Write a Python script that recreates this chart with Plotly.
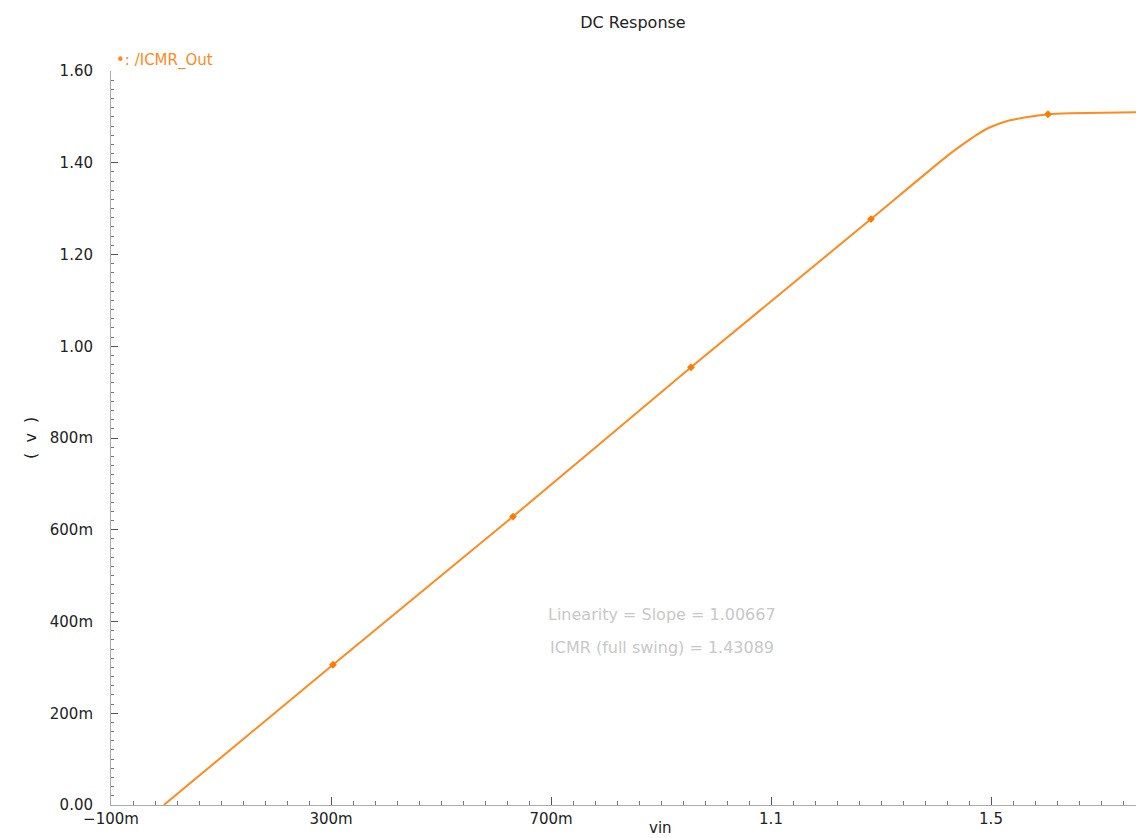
import plotly.graph_objects as go

# DC sweep of the ICMR output (input voltage vs output voltage)
vin = [-0.004, 0.3036, 0.6309, 0.9545, 1.2818, 1.42, 1.4564, 1.4782, 1.4982,
       1.5345, 1.5764, 1.6036, 1.6436, 1.7636]
vout = [0.0, 0.3057, 0.6288, 0.9541, 1.2773, 1.4145, 1.4465, 1.4640, 1.4774,
        1.4926, 1.5013, 1.5057, 1.5079, 1.5100]

# trace identification markers
marker_vin = [0.3036, 0.6309, 0.9545, 1.2818, 1.6036]
marker_vout = [0.3057, 0.6288, 0.9541, 1.2773, 1.5057]

x_tickvals = [-0.1, 0.3, 0.7, 1.1, 1.5]
x_ticktext = ["\u2212100m", "300m", "700m", "1.1", "1.5"]
y_tickvals = [0.0, 0.2, 0.4, 0.6, 0.8, 1.0, 1.2, 1.4, 1.6]
y_ticktext = ["0.00", "200m", "400m", "600m", "800m", "1.00", "1.20", "1.40", "1.60"]

slope = "1.00667"
icmr = "1.43089"

ORANGE = "#ff8a1e"
FONT = "DejaVu Sans"

fig = go.Figure()
fig.add_trace(go.Scatter(x=vin, y=vout, mode="lines",
                         line=dict(color=ORANGE, width=2, shape="spline", smoothing=0.5),
                         hoverinfo="skip", showlegend=False))
fig.add_trace(go.Scatter(x=marker_vin, y=marker_vout, mode="markers",
                         marker=dict(symbol="diamond", size=6, color="#ff7a00"),
                         showlegend=False))

W, H = 1136, 838
L, R, T, B = 111, 0, 71, 33
PW, PH = W - L - R, H - T - B
x_lo = -0.1
x_hi = x_lo + PW / 550.0


def px(x):
    return (x - L) / PW


def py(y):
    return (H - B - y) / PH


fig.update_layout(
    width=W, height=H,
    margin=dict(l=L, r=R, t=T, b=B),
    paper_bgcolor="white", plot_bgcolor="white",
    font=dict(family=FONT, size=15, color="#222"),
    title=dict(text="DC Response", x=633 / W, xanchor="center",
               y=1 - 22 / H, yanchor="middle",
               font=dict(family=FONT, size=16, color="#222")),
    xaxis=dict(range=[x_lo, x_hi], tickvals=x_tickvals, ticktext=x_ticktext,
               showgrid=False, zeroline=False, showline=True,
               linecolor="#aaaaaa", linewidth=1,
               ticks="inside", ticklen=8, tickcolor="#555", tickwidth=1,
               minor=dict(tick0=-0.1, dtick=0.04, ticks="inside", ticklen=4,
                          tickcolor="#777", showgrid=False),
               tickfont=dict(family=FONT, size=15, color="#222"),
               ticklabelstandoff=0),
    yaxis=dict(range=[0, 1.6], tickvals=y_tickvals, ticktext=y_ticktext,
               showgrid=False, zeroline=False, showline=True,
               linecolor="#aaaaaa", linewidth=1,
               ticks="inside", ticklen=7, tickcolor="#555", tickwidth=1,
               minor=dict(tick0=0, dtick=0.02, ticks="inside", ticklen=3,
                          tickcolor="#777", showgrid=False),
               tickfont=dict(family=FONT, size=15, color="#222"),
               ticklabelstandoff=14),
)

# axis labels
fig.add_annotation(text="(  v  )", xref="paper", yref="paper",
                   x=px(30), y=py(438), xanchor="center", yanchor="middle",
                   showarrow=False, textangle=-90,
                   font=dict(family=FONT, size=16, color="#222"))
fig.add_annotation(text="vin", xref="paper", yref="paper",
                   x=px(660), y=py(838), xanchor="center", yanchor="bottom",
                   showarrow=False, borderpad=0,
                   font=dict(family=FONT, size=15, color="#222"))

# trace label
fig.add_annotation(text="\u2022: /ICMR_Out", xref="paper", yref="paper",
                   x=px(114), y=py(60), xanchor="left", yanchor="middle",
                   showarrow=False,
                   font=dict(family=FONT, size=15, color=ORANGE))

# measurement results
fig.add_annotation(text=f"Linearity = Slope = {slope}", xref="paper", yref="paper",
                   x=px(662), y=py(614), xanchor="center", yanchor="middle",
                   showarrow=False, font=dict(family=FONT, size=16, color="#c8c8c8"))
fig.add_annotation(text=f"ICMR (full swing) = {icmr}", xref="paper", yref="paper",
                   x=px(662), y=py(647), xanchor="center", yanchor="middle",
                   showarrow=False, font=dict(family=FONT, size=16, color="#c8c8c8"))

fig.write_html("out.html")
